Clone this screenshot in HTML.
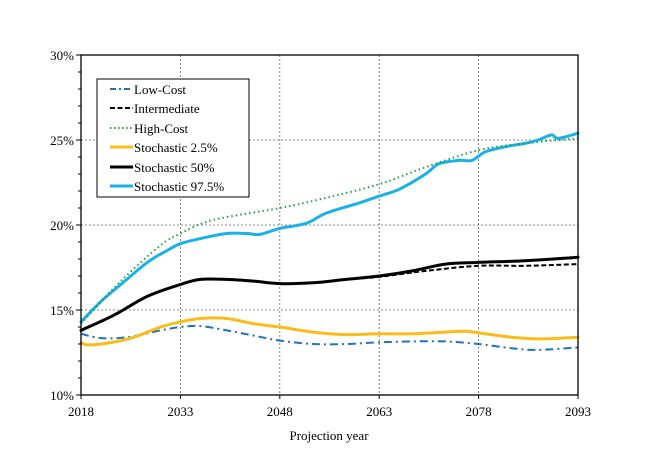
<!DOCTYPE html>
<html><head><meta charset="utf-8"><style>
body{margin:0;background:#fff;}
svg{display:block;font-family:"Liberation Serif",serif;}
</style></head><body>
<svg id="s" width="648" height="468" viewBox="0 0 648 468" xmlns="http://www.w3.org/2000/svg">
<rect width="648" height="468" fill="#fff"/>
<g stroke="#666" stroke-width="0.8" stroke-dasharray="2,2" fill="none">
<line x1="81" y1="140" x2="578" y2="140"/>
<line x1="81" y1="225" x2="578" y2="225"/>
<line x1="81" y1="310" x2="578" y2="310"/>
<line x1="180.4" y1="55" x2="180.4" y2="395"/>
<line x1="279.8" y1="55" x2="279.8" y2="395"/>
<line x1="379.2" y1="55" x2="379.2" y2="395"/>
<line x1="478.6" y1="55" x2="478.6" y2="395"/>
</g>
<g id="curves" fill="none" stroke-linejoin="round" stroke-linecap="round"></g>
<rect x="81" y="55" width="497" height="340" fill="none" stroke="#000" stroke-width="1.3"/>
<g id="ticks" stroke="#000" stroke-width="1"></g>
<g font-size="13" fill="#000" text-anchor="end">
<text x="74" y="60">30%</text><text x="74" y="145">25%</text><text x="74" y="230">20%</text><text x="74" y="315">15%</text><text x="74" y="400">10%</text>
</g>
<g font-size="13" fill="#000" text-anchor="middle">
<text x="81" y="416">2018</text><text x="180.4" y="416">2033</text><text x="279.8" y="416">2048</text><text x="379.2" y="416">2063</text><text x="478.6" y="416">2078</text><text x="578" y="416">2093</text>
<text x="329" y="440">Projection year</text>
</g>
<rect x="97" y="79" width="152" height="118" fill="#fff" stroke="#000" stroke-width="1"/>
<g stroke-width="3" fill="none">
<line x1="110" y1="89" x2="130" y2="89" stroke="#1f72c2" stroke-width="2" stroke-dasharray="6,3,2,3"/>
<line x1="110" y1="108" x2="133" y2="108" stroke="#000" stroke-width="2" stroke-dasharray="5,2.5"/>
<line x1="110" y1="128" x2="133" y2="128" stroke="#22a04b" stroke-width="2" stroke-dasharray="1.5,2.5"/>
<line x1="110" y1="147" x2="133" y2="147" stroke="#fbbc1a"/>
<line x1="110" y1="167" x2="133" y2="167" stroke="#000"/>
<line x1="110" y1="186" x2="133" y2="186" stroke="#1ab0e8"/>
</g>
<g font-size="13" fill="#000">
<text x="134" y="94">Low-Cost</text><text x="134" y="113">Intermediate</text><text x="134" y="133">High-Cost</text>
<text x="134" y="152">Stochastic 2.5%</text><text x="134" y="172">Stochastic 50%</text><text x="134" y="191">Stochastic 97.5%</text>
</g>
</svg>
<script>
function X(y){return 81+(y-2018)*497/75}
function Y(v){return 395-(v-10)*17}
var NS="http://www.w3.org/2000/svg";
var t=document.getElementById("ticks");
for(var v=10;v<=30;v++){var l=document.createElementNS(NS,"line");l.setAttribute("x1",81);l.setAttribute("x2",v%5?78:76);l.setAttribute("y1",Y(v));l.setAttribute("y2",Y(v));t.appendChild(l);}
for(var yr=2018;yr<=2093;yr+=15){var l=document.createElementNS(NS,"line");l.setAttribute("x1",X(yr));l.setAttribute("x2",X(yr));l.setAttribute("y1",395);l.setAttribute("y2",399);t.appendChild(l);}
function cr(pts){var P=pts.map(function(p){return [X(p[0]),Y(p[1])]});var d="M"+P[0][0].toFixed(1)+","+P[0][1].toFixed(1);
for(var i=0;i<P.length-1;i++){var p0=P[i>0?i-1:i],p1=P[i],p2=P[i+1],p3=P[i+2<P.length?i+2:i+1];
var c1=[p1[0]+(p2[0]-p0[0])/6,p1[1]+(p2[1]-p0[1])/6],c2=[p2[0]-(p3[0]-p1[0])/6,p2[1]-(p3[1]-p1[1])/6];
d+=" C"+c1[0].toFixed(1)+","+c1[1].toFixed(1)+" "+c2[0].toFixed(1)+","+c2[1].toFixed(1)+" "+p2[0].toFixed(1)+","+p2[1].toFixed(1);}return d;}
var series=[
{c:"#1f72c2",w:2,d:"8,4,2,4",p:[[2018,13.6],[2021,13.35],[2025,13.4],[2030,13.8],[2033,14.0],[2036,14.05],[2040,13.8],[2044,13.5],[2048,13.2],[2053,13.0],[2058,13.0],[2063,13.1],[2068,13.15],[2073,13.15],[2078,13.0],[2083,12.75],[2087,12.65],[2093,12.8]]},
{c:"#fbbc1a",w:3,p:[[2018,13.1],[2019,12.95],[2022,13.05],[2026,13.4],[2030,14.0],[2033,14.3],[2036,14.5],[2040,14.5],[2044,14.2],[2048,14.0],[2053,13.7],[2058,13.55],[2063,13.6],[2068,13.6],[2073,13.7],[2076,13.75],[2079,13.6],[2083,13.4],[2087,13.3],[2093,13.4]]},
{c:"#000",w:2,d:"5,2.5",p:[[2018,13.8],[2023,14.7],[2028,15.8],[2033,16.5],[2036,16.8],[2040,16.8],[2044,16.7],[2048,16.55],[2053,16.6],[2058,16.8],[2063,16.95],[2070,17.3],[2078,17.6],[2085,17.6],[2093,17.7]]},
{c:"#000",w:3,p:[[2018,13.8],[2023,14.7],[2028,15.8],[2033,16.5],[2036,16.8],[2040,16.8],[2044,16.7],[2048,16.55],[2053,16.6],[2058,16.8],[2063,17.0],[2068,17.3],[2073,17.7],[2078,17.8],[2085,17.9],[2093,18.1]]},
{c:"#1ab0e8",w:3,p:[[2018,14.3],[2021,15.5],[2024,16.5],[2028,17.8],[2031,18.5],[2033,18.9],[2036,19.2],[2040,19.5],[2043,19.5],[2045,19.45],[2048,19.8],[2052,20.1],[2055,20.7],[2060,21.3],[2063,21.7],[2066,22.1],[2070,23.0],[2072,23.6],[2075,23.8],[2077,23.8],[2079,24.3],[2082,24.6],[2085,24.8],[2087,25.0],[2089,25.3],[2090,25.1],[2093,25.4]]},
{c:"#22a04b",w:2,d:"1.5,3",p:[[2018,14.2],[2024,16.7],[2030,18.8],[2033,19.5],[2038,20.3],[2048,21.0],[2055,21.6],[2063,22.4],[2070,23.4],[2078,24.4],[2085,24.8],[2093,25.1]]}
];
var g=document.getElementById("curves");
series.forEach(function(s){var pl=document.createElementNS(NS,"path");pl.setAttribute("d",cr(s.p));pl.setAttribute("stroke",s.c);pl.setAttribute("stroke-width",s.w);if(s.d){pl.setAttribute("stroke-dasharray",s.d);pl.setAttribute("stroke-linecap","butt");}g.appendChild(pl);});
</script>
</body></html>
